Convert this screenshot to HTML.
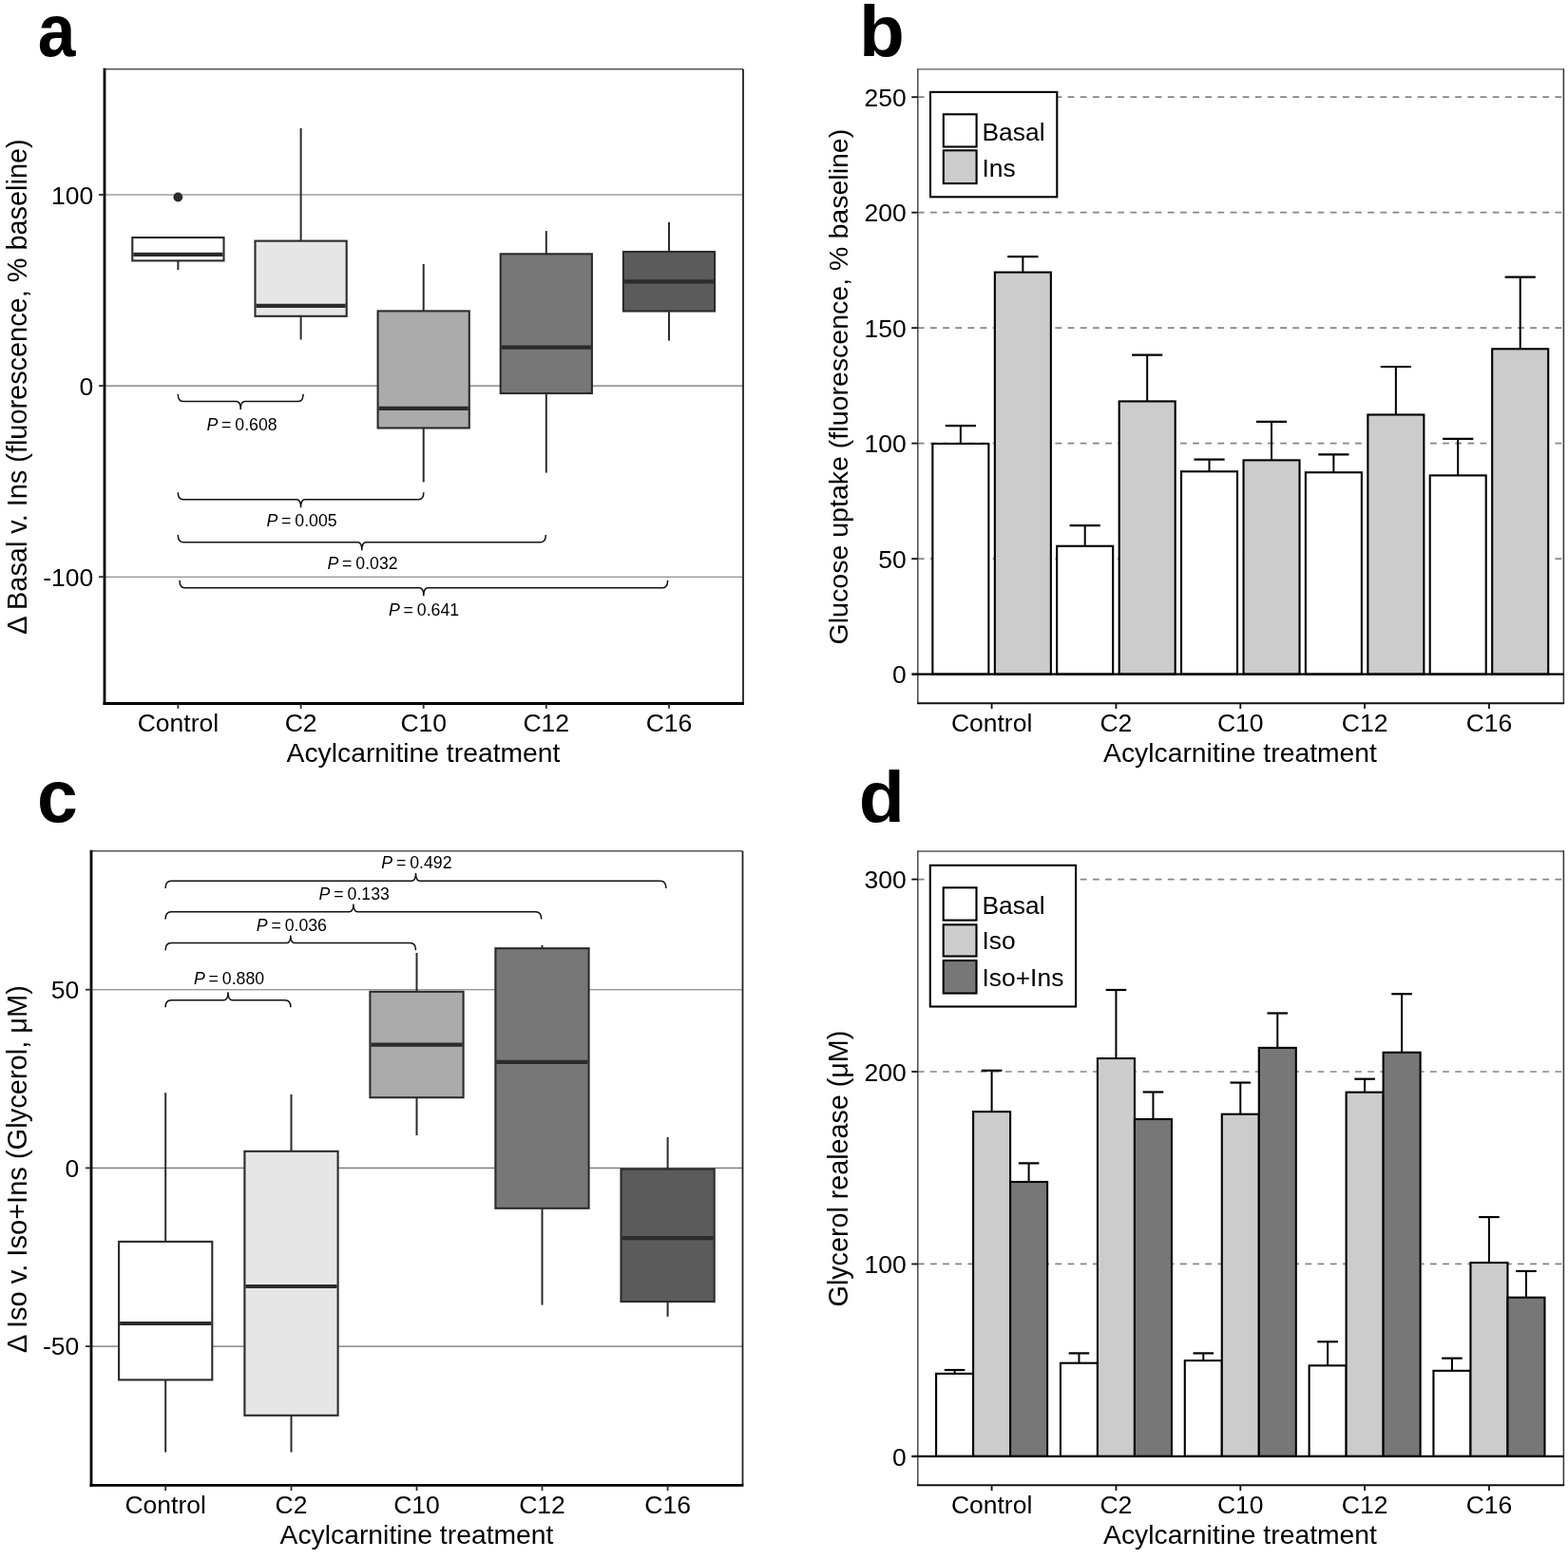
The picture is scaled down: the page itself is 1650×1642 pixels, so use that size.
<!DOCTYPE html>
<html><head><meta charset="utf-8"><title>Figure</title><style>html,body{margin:0;padding:0;background:#fff;}svg{display:block;}</style></head><body>
<svg width="1650" height="1642" viewBox="0 0 1650 1642" font-family="'Liberation Sans', Arial, Helvetica, sans-serif" fill="#000">
<rect x="0" y="0" width="1650" height="1642" fill="#fff"/>
<line x1="110" y1="205" x2="782" y2="205" stroke="#707070" stroke-width="1.15"/>
<line x1="110" y1="406.1" x2="782" y2="406.1" stroke="#707070" stroke-width="1.15"/>
<line x1="110" y1="607.2" x2="782" y2="607.2" stroke="#707070" stroke-width="1.15"/>
<line x1="110" y1="72.7" x2="782" y2="72.7" stroke="#555" stroke-width="1.5"/>
<line x1="782" y1="72.7" x2="782" y2="740.5" stroke="#222" stroke-width="1.8"/>
<line x1="187.4" y1="250" x2="187.4" y2="250" stroke="#2b2b2b" stroke-width="2"/>
<line x1="187.4" y1="274.4" x2="187.4" y2="284" stroke="#2b2b2b" stroke-width="2"/>
<rect x="139.3" y="250" width="96.2" height="24.4" fill="#ffffff" stroke="#2b2b2b" stroke-width="2.1"/>
<line x1="140.3" y1="267.8" x2="234.5" y2="267.8" stroke="#2b2b2b" stroke-width="4.2"/>
<line x1="316.6" y1="134.9" x2="316.6" y2="253.6" stroke="#2b2b2b" stroke-width="2"/>
<line x1="316.6" y1="332.8" x2="316.6" y2="357.5" stroke="#2b2b2b" stroke-width="2"/>
<rect x="268.5" y="253.6" width="96.2" height="79.2" fill="#e6e6e6" stroke="#2b2b2b" stroke-width="2.1"/>
<line x1="269.5" y1="321.8" x2="363.7" y2="321.8" stroke="#2b2b2b" stroke-width="4.2"/>
<line x1="445.7" y1="277.9" x2="445.7" y2="327.4" stroke="#2b2b2b" stroke-width="2"/>
<line x1="445.7" y1="450.5" x2="445.7" y2="507.4" stroke="#2b2b2b" stroke-width="2"/>
<rect x="397.6" y="327.4" width="96.2" height="123.1" fill="#ababab" stroke="#2b2b2b" stroke-width="2.1"/>
<line x1="398.6" y1="429.8" x2="492.8" y2="429.8" stroke="#2b2b2b" stroke-width="4.2"/>
<line x1="574.8" y1="243.1" x2="574.8" y2="267.3" stroke="#2b2b2b" stroke-width="2"/>
<line x1="574.8" y1="414" x2="574.8" y2="497.6" stroke="#2b2b2b" stroke-width="2"/>
<rect x="526.7" y="267.3" width="96.2" height="146.7" fill="#777777" stroke="#2b2b2b" stroke-width="2.1"/>
<line x1="527.7" y1="365.7" x2="621.9" y2="365.7" stroke="#2b2b2b" stroke-width="4.2"/>
<line x1="704" y1="233.9" x2="704" y2="265" stroke="#2b2b2b" stroke-width="2"/>
<line x1="704" y1="327.5" x2="704" y2="358.4" stroke="#2b2b2b" stroke-width="2"/>
<rect x="655.9" y="265" width="96.2" height="62.5" fill="#5b5b5b" stroke="#2b2b2b" stroke-width="2.1"/>
<line x1="656.9" y1="296.3" x2="751.1" y2="296.3" stroke="#2b2b2b" stroke-width="4.2"/>
<circle cx="187.3" cy="207.5" r="4.9" fill="#2b2b2b"/>
<line x1="110" y1="71.7" x2="110" y2="741.9" stroke="#000" stroke-width="2.8"/>
<line x1="108.6" y1="740.5" x2="782.9" y2="740.5" stroke="#000" stroke-width="2.8"/>
<line x1="104" y1="205" x2="110" y2="205" stroke="#2b2b2b" stroke-width="1.8"/>
<text x="98.2" y="214.6" font-size="26.5" text-anchor="end">100</text>
<line x1="104" y1="406.1" x2="110" y2="406.1" stroke="#2b2b2b" stroke-width="1.8"/>
<text x="98.2" y="415.7" font-size="26.5" text-anchor="end">0</text>
<line x1="104" y1="607.2" x2="110" y2="607.2" stroke="#2b2b2b" stroke-width="1.8"/>
<text x="98.2" y="616.8" font-size="26.5" text-anchor="end">-100</text>
<line x1="187.4" y1="740.5" x2="187.4" y2="745.8" stroke="#2b2b2b" stroke-width="1.8"/>
<text x="187.4" y="770" font-size="26.5" text-anchor="middle">Control</text>
<line x1="316.6" y1="740.5" x2="316.6" y2="745.8" stroke="#2b2b2b" stroke-width="1.8"/>
<text x="316.6" y="770" font-size="26.5" text-anchor="middle">C2</text>
<line x1="445.7" y1="740.5" x2="445.7" y2="745.8" stroke="#2b2b2b" stroke-width="1.8"/>
<text x="445.7" y="770" font-size="26.5" text-anchor="middle">C10</text>
<line x1="574.8" y1="740.5" x2="574.8" y2="745.8" stroke="#2b2b2b" stroke-width="1.8"/>
<text x="574.8" y="770" font-size="26.5" text-anchor="middle">C12</text>
<line x1="704" y1="740.5" x2="704" y2="745.8" stroke="#2b2b2b" stroke-width="1.8"/>
<text x="704" y="770" font-size="26.5" text-anchor="middle">C16</text>
<text x="445.5" y="802.3" font-size="28.3" text-anchor="middle">Acylcarnitine treatment</text>
<text transform="translate(28,407) rotate(-90)" font-size="28.9" text-anchor="middle">&#916; Basal v. Ins (fluorescence, % baseline)</text>
<path d="M187.3,414.8 Q187.3,422.5 192.5,422.5 L248.7,422.5 Q253.2,422.5 253.2,431 Q253.2,422.5 257.7,422.5 L313.9,422.5 Q319.1,422.5 319.1,414.8" fill="none" stroke="#111" stroke-width="1.5"/>
<text x="254.5" y="452.5" font-size="17.7" text-anchor="middle" word-spacing="-1"><tspan font-style="italic">P</tspan> = 0.608</text>
<path d="M187.3,518.3 Q187.3,525.8 192.5,525.8 L312.05,525.8 Q316.55,525.8 316.55,534.3 Q316.55,525.8 321.05,525.8 L440.6,525.8 Q445.8,525.8 445.8,518.3" fill="none" stroke="#111" stroke-width="1.5"/>
<text x="317.5" y="553.6" font-size="17.7" text-anchor="middle" word-spacing="-1"><tspan font-style="italic">P</tspan> = 0.005</text>
<path d="M187.3,563.1 Q187.3,570.7 192.5,570.7 L376.3,570.7 Q380.8,570.7 380.8,579.2 Q380.8,570.7 385.3,570.7 L569.1,570.7 Q574.3,570.7 574.3,563.1" fill="none" stroke="#111" stroke-width="1.5"/>
<text x="381.5" y="598.7" font-size="17.7" text-anchor="middle" word-spacing="-1"><tspan font-style="italic">P</tspan> = 0.032</text>
<path d="M189,610.7 Q189,618.7 194.2,618.7 L441.3,618.7 Q445.8,618.7 445.8,627.2 Q445.8,618.7 450.3,618.7 L697.4,618.7 Q702.6,618.7 702.6,610.7" fill="none" stroke="#111" stroke-width="1.5"/>
<text x="446" y="648.3" font-size="17.7" text-anchor="middle" word-spacing="-1"><tspan font-style="italic">P</tspan> = 0.641</text>
<text transform="translate(39.8,58.8) scale(0.911,1)" font-size="78.3" font-weight="bold">a</text>
<line x1="965.8" y1="588.12" x2="1645.4" y2="588.12" stroke="#858585" stroke-width="1.7" stroke-dasharray="6.8 6.35"/>
<line x1="965.8" y1="466.64" x2="1645.4" y2="466.64" stroke="#858585" stroke-width="1.7" stroke-dasharray="6.8 6.35"/>
<line x1="965.8" y1="345.16" x2="1645.4" y2="345.16" stroke="#858585" stroke-width="1.7" stroke-dasharray="6.8 6.35"/>
<line x1="965.8" y1="223.68" x2="1645.4" y2="223.68" stroke="#858585" stroke-width="1.7" stroke-dasharray="6.8 6.35"/>
<line x1="965.8" y1="102.2" x2="1645.4" y2="102.2" stroke="#858585" stroke-width="1.7" stroke-dasharray="6.8 6.35"/>
<line x1="965.8" y1="72.9" x2="1645.4" y2="72.9" stroke="#5a5a5a" stroke-width="1.4"/>
<line x1="965.8" y1="72.2" x2="965.8" y2="740.2" stroke="#484848" stroke-width="1.5"/>
<line x1="1645.4" y1="72.2" x2="1645.4" y2="740.2" stroke="#333" stroke-width="1.5"/>
<line x1="965.05" y1="740.2" x2="1646.15" y2="740.2" stroke="#111" stroke-width="1.9"/>
<line x1="1010.85" y1="467" x2="1010.85" y2="448.18" stroke="#000" stroke-width="2"/>
<line x1="994.75" y1="448.18" x2="1026.95" y2="448.18" stroke="#000" stroke-width="2.2"/>
<rect x="981.35" y="467" width="59" height="242.6" fill="#ffffff" stroke="#000" stroke-width="2.1"/>
<line x1="1076.35" y1="286.61" x2="1076.35" y2="270.09" stroke="#000" stroke-width="2"/>
<line x1="1060.25" y1="270.09" x2="1092.45" y2="270.09" stroke="#000" stroke-width="2.2"/>
<rect x="1046.85" y="286.61" width="59" height="422.99" fill="#cccccc" stroke="#000" stroke-width="2.1"/>
<line x1="1141.69" y1="574.76" x2="1141.69" y2="553.13" stroke="#000" stroke-width="2"/>
<line x1="1125.59" y1="553.13" x2="1157.79" y2="553.13" stroke="#000" stroke-width="2.2"/>
<rect x="1112.19" y="574.76" width="59" height="134.84" fill="#ffffff" stroke="#000" stroke-width="2.1"/>
<line x1="1207.19" y1="422.42" x2="1207.19" y2="373.59" stroke="#000" stroke-width="2"/>
<line x1="1191.09" y1="373.59" x2="1223.29" y2="373.59" stroke="#000" stroke-width="2.2"/>
<rect x="1177.69" y="422.42" width="59" height="287.18" fill="#cccccc" stroke="#000" stroke-width="2.1"/>
<line x1="1272.53" y1="496.28" x2="1272.53" y2="483.65" stroke="#000" stroke-width="2"/>
<line x1="1256.43" y1="483.65" x2="1288.63" y2="483.65" stroke="#000" stroke-width="2.2"/>
<rect x="1243.03" y="496.28" width="59" height="213.32" fill="#ffffff" stroke="#000" stroke-width="2.1"/>
<line x1="1338.03" y1="484.38" x2="1338.03" y2="443.8" stroke="#000" stroke-width="2"/>
<line x1="1321.93" y1="443.8" x2="1354.13" y2="443.8" stroke="#000" stroke-width="2.2"/>
<rect x="1308.53" y="484.38" width="59" height="225.22" fill="#cccccc" stroke="#000" stroke-width="2.1"/>
<line x1="1403.37" y1="497.25" x2="1403.37" y2="478.3" stroke="#000" stroke-width="2"/>
<line x1="1387.27" y1="478.3" x2="1419.47" y2="478.3" stroke="#000" stroke-width="2.2"/>
<rect x="1373.87" y="497.25" width="59" height="212.35" fill="#ffffff" stroke="#000" stroke-width="2.1"/>
<line x1="1468.87" y1="436.51" x2="1468.87" y2="385.98" stroke="#000" stroke-width="2"/>
<line x1="1452.77" y1="385.98" x2="1484.97" y2="385.98" stroke="#000" stroke-width="2.2"/>
<rect x="1439.37" y="436.51" width="59" height="273.09" fill="#cccccc" stroke="#000" stroke-width="2.1"/>
<line x1="1534.21" y1="500.41" x2="1534.21" y2="461.9" stroke="#000" stroke-width="2"/>
<line x1="1518.11" y1="461.9" x2="1550.31" y2="461.9" stroke="#000" stroke-width="2.2"/>
<rect x="1504.71" y="500.41" width="59" height="209.19" fill="#ffffff" stroke="#000" stroke-width="2.1"/>
<line x1="1599.71" y1="367.27" x2="1599.71" y2="291.71" stroke="#000" stroke-width="2"/>
<line x1="1583.61" y1="291.71" x2="1615.81" y2="291.71" stroke="#000" stroke-width="2.2"/>
<rect x="1570.21" y="367.27" width="59" height="342.33" fill="#cccccc" stroke="#000" stroke-width="2.1"/>
<line x1="959.8" y1="709.6" x2="1645.4" y2="709.6" stroke="#000" stroke-width="2.2"/>
<line x1="959.3" y1="709.6" x2="965.8" y2="709.6" stroke="#111" stroke-width="1.8"/>
<text x="953.8" y="719.2" font-size="26.5" text-anchor="end">0</text>
<line x1="959.3" y1="588.12" x2="965.8" y2="588.12" stroke="#111" stroke-width="1.8"/>
<text x="953.8" y="597.72" font-size="26.5" text-anchor="end">50</text>
<line x1="959.3" y1="466.64" x2="965.8" y2="466.64" stroke="#111" stroke-width="1.8"/>
<text x="953.8" y="476.24" font-size="26.5" text-anchor="end">100</text>
<line x1="959.3" y1="345.16" x2="965.8" y2="345.16" stroke="#111" stroke-width="1.8"/>
<text x="953.8" y="354.76" font-size="26.5" text-anchor="end">150</text>
<line x1="959.3" y1="223.68" x2="965.8" y2="223.68" stroke="#111" stroke-width="1.8"/>
<text x="953.8" y="233.28" font-size="26.5" text-anchor="end">200</text>
<line x1="959.3" y1="102.2" x2="965.8" y2="102.2" stroke="#111" stroke-width="1.8"/>
<text x="953.8" y="111.8" font-size="26.5" text-anchor="end">250</text>
<line x1="1043.6" y1="740.2" x2="1043.6" y2="746" stroke="#111" stroke-width="1.8"/>
<text x="1043.6" y="770" font-size="26.5" text-anchor="middle">Control</text>
<line x1="1174.44" y1="740.2" x2="1174.44" y2="746" stroke="#111" stroke-width="1.8"/>
<text x="1174.44" y="770" font-size="26.5" text-anchor="middle">C2</text>
<line x1="1305.28" y1="740.2" x2="1305.28" y2="746" stroke="#111" stroke-width="1.8"/>
<text x="1305.28" y="770" font-size="26.5" text-anchor="middle">C10</text>
<line x1="1436.12" y1="740.2" x2="1436.12" y2="746" stroke="#111" stroke-width="1.8"/>
<text x="1436.12" y="770" font-size="26.5" text-anchor="middle">C12</text>
<line x1="1566.96" y1="740.2" x2="1566.96" y2="746" stroke="#111" stroke-width="1.8"/>
<text x="1566.96" y="770" font-size="26.5" text-anchor="middle">C16</text>
<text x="1305" y="802.3" font-size="28.3" text-anchor="middle">Acylcarnitine treatment</text>
<text transform="translate(892.4,407.1) rotate(-90)" font-size="28.56" text-anchor="middle">Glucose uptake (fluorescence, % baseline)</text>
<rect x="979" y="96.9" width="133.3" height="110.4" fill="#fff" stroke="#000" stroke-width="2.1"/>
<rect x="992.8" y="120.3" width="34.8" height="34.2" fill="#fff" stroke="#000" stroke-width="2.1"/>
<rect x="992.8" y="158.3" width="34.8" height="34.8" fill="#cccccc" stroke="#000" stroke-width="2.1"/>
<text x="1033.5" y="147.5" font-size="26.4" text-anchor="start">Basal</text>
<text x="1033.5" y="185.8" font-size="26.4" text-anchor="start">Ins</text>
<text transform="translate(904,58.9) scale(1.03,1)" font-size="76.1" font-weight="bold">b</text>
<line x1="96" y1="1041.7" x2="781.5" y2="1041.7" stroke="#707070" stroke-width="1.15"/>
<line x1="96" y1="1229.4" x2="781.5" y2="1229.4" stroke="#707070" stroke-width="1.15"/>
<line x1="96" y1="1417.1" x2="781.5" y2="1417.1" stroke="#707070" stroke-width="1.15"/>
<line x1="96" y1="895.8" x2="781.5" y2="895.8" stroke="#555" stroke-width="1.5"/>
<line x1="781.5" y1="895.8" x2="781.5" y2="1563.4" stroke="#222" stroke-width="1.8"/>
<line x1="174.2" y1="1150.2" x2="174.2" y2="1306.9" stroke="#2b2b2b" stroke-width="2"/>
<line x1="174.2" y1="1452.4" x2="174.2" y2="1528.5" stroke="#2b2b2b" stroke-width="2"/>
<rect x="125.1" y="1306.9" width="98.2" height="145.5" fill="#ffffff" stroke="#2b2b2b" stroke-width="2.1"/>
<line x1="126.1" y1="1393" x2="222.3" y2="1393" stroke="#2b2b2b" stroke-width="4.2"/>
<line x1="306.5" y1="1151.9" x2="306.5" y2="1211.8" stroke="#2b2b2b" stroke-width="2"/>
<line x1="306.5" y1="1489.8" x2="306.5" y2="1528.5" stroke="#2b2b2b" stroke-width="2"/>
<rect x="257.4" y="1211.8" width="98.2" height="278" fill="#e6e6e6" stroke="#2b2b2b" stroke-width="2.1"/>
<line x1="258.4" y1="1354" x2="354.6" y2="1354" stroke="#2b2b2b" stroke-width="4.2"/>
<line x1="438.5" y1="1003" x2="438.5" y2="1043.8" stroke="#2b2b2b" stroke-width="2"/>
<line x1="438.5" y1="1155.2" x2="438.5" y2="1195" stroke="#2b2b2b" stroke-width="2"/>
<rect x="389.4" y="1043.8" width="98.2" height="111.4" fill="#ababab" stroke="#2b2b2b" stroke-width="2.1"/>
<line x1="390.4" y1="1099.6" x2="486.6" y2="1099.6" stroke="#2b2b2b" stroke-width="4.2"/>
<line x1="570.5" y1="994.8" x2="570.5" y2="998.2" stroke="#2b2b2b" stroke-width="2"/>
<line x1="570.5" y1="1271.8" x2="570.5" y2="1373.6" stroke="#2b2b2b" stroke-width="2"/>
<rect x="521.4" y="998.2" width="98.2" height="273.6" fill="#777777" stroke="#2b2b2b" stroke-width="2.1"/>
<line x1="522.4" y1="1117.8" x2="618.6" y2="1117.8" stroke="#2b2b2b" stroke-width="4.2"/>
<line x1="702.6" y1="1197" x2="702.6" y2="1230.6" stroke="#2b2b2b" stroke-width="2"/>
<line x1="702.6" y1="1370" x2="702.6" y2="1385.8" stroke="#2b2b2b" stroke-width="2"/>
<rect x="653.5" y="1230.6" width="98.2" height="139.4" fill="#5b5b5b" stroke="#2b2b2b" stroke-width="2.1"/>
<line x1="654.5" y1="1303.1" x2="750.7" y2="1303.1" stroke="#2b2b2b" stroke-width="4.2"/>
<line x1="96" y1="894.8" x2="96" y2="1564.8" stroke="#000" stroke-width="2.8"/>
<line x1="94.6" y1="1563.4" x2="782.4" y2="1563.4" stroke="#000" stroke-width="2.8"/>
<line x1="90" y1="1041.7" x2="96" y2="1041.7" stroke="#2b2b2b" stroke-width="1.8"/>
<text x="83.3" y="1051" font-size="26.5" text-anchor="end">50</text>
<line x1="90" y1="1229.4" x2="96" y2="1229.4" stroke="#2b2b2b" stroke-width="1.8"/>
<text x="83.3" y="1238.7" font-size="26.5" text-anchor="end">0</text>
<line x1="90" y1="1417.1" x2="96" y2="1417.1" stroke="#2b2b2b" stroke-width="1.8"/>
<text x="83.3" y="1426.4" font-size="26.5" text-anchor="end">-50</text>
<line x1="174.2" y1="1563.4" x2="174.2" y2="1569" stroke="#2b2b2b" stroke-width="1.8"/>
<text x="174.2" y="1593" font-size="26.5" text-anchor="middle">Control</text>
<line x1="306.5" y1="1563.4" x2="306.5" y2="1569" stroke="#2b2b2b" stroke-width="1.8"/>
<text x="306.5" y="1593" font-size="26.5" text-anchor="middle">C2</text>
<line x1="438.5" y1="1563.4" x2="438.5" y2="1569" stroke="#2b2b2b" stroke-width="1.8"/>
<text x="438.5" y="1593" font-size="26.5" text-anchor="middle">C10</text>
<line x1="570.5" y1="1563.4" x2="570.5" y2="1569" stroke="#2b2b2b" stroke-width="1.8"/>
<text x="570.5" y="1593" font-size="26.5" text-anchor="middle">C12</text>
<line x1="702.6" y1="1563.4" x2="702.6" y2="1569" stroke="#2b2b2b" stroke-width="1.8"/>
<text x="702.6" y="1593" font-size="26.5" text-anchor="middle">C16</text>
<text x="438.5" y="1625.3" font-size="28.3" text-anchor="middle">Acylcarnitine treatment</text>
<text transform="translate(28.2,1230.45) rotate(-90)" font-size="29.07" text-anchor="middle">&#916; Iso v. Iso+Ins (Glycerol, &#956;M)</text>
<path d="M174.1,1060.2 Q174.1,1052.8 180.1,1052.8 L235.5,1052.8 Q240,1052.8 240,1044.3 Q240,1052.8 244.5,1052.8 L299.9,1052.8 Q305.9,1052.8 305.9,1060.2" fill="none" stroke="#111" stroke-width="1.5"/>
<text x="241" y="1035.6" font-size="17.7" text-anchor="middle" word-spacing="-1"><tspan font-style="italic">P</tspan> = 0.880</text>
<path d="M174.1,1000.2 Q174.1,992.6 180.1,992.6 L301.3,992.6 Q305.8,992.6 305.8,984.4 Q305.8,992.6 310.3,992.6 L431.5,992.6 Q437.5,992.6 437.5,1000.2" fill="none" stroke="#111" stroke-width="1.5"/>
<text x="306.8" y="979.9" font-size="17.7" text-anchor="middle" word-spacing="-1"><tspan font-style="italic">P</tspan> = 0.036</text>
<path d="M174.1,967.5 Q174.1,959.7 180.1,959.7 L367.4,959.7 Q371.9,959.7 371.9,951.5 Q371.9,959.7 376.4,959.7 L563.7,959.7 Q569.7,959.7 569.7,967.5" fill="none" stroke="#111" stroke-width="1.5"/>
<text x="372.7" y="947.2" font-size="17.7" text-anchor="middle" word-spacing="-1"><tspan font-style="italic">P</tspan> = 0.133</text>
<path d="M174.1,935 Q174.1,927.2 180.1,927.2 L433,927.2 Q437.5,927.2 437.5,919 Q437.5,927.2 442,927.2 L694.9,927.2 Q700.9,927.2 700.9,935" fill="none" stroke="#111" stroke-width="1.5"/>
<text x="438.4" y="913.9" font-size="17.7" text-anchor="middle" word-spacing="-1"><tspan font-style="italic">P</tspan> = 0.492</text>
<text transform="translate(39.1,864.8) scale(0.98,1)" font-size="78.5" font-weight="bold">c</text>
<line x1="965.8" y1="1330.45" x2="1645.4" y2="1330.45" stroke="#858585" stroke-width="1.7" stroke-dasharray="6.8 6.35"/>
<line x1="965.8" y1="1128" x2="1645.4" y2="1128" stroke="#858585" stroke-width="1.7" stroke-dasharray="6.8 6.35"/>
<line x1="965.8" y1="925.55" x2="1645.4" y2="925.55" stroke="#858585" stroke-width="1.7" stroke-dasharray="6.8 6.35"/>
<line x1="965.8" y1="896" x2="1645.4" y2="896" stroke="#5a5a5a" stroke-width="1.4"/>
<line x1="965.8" y1="895.3" x2="965.8" y2="1563.3" stroke="#484848" stroke-width="1.5"/>
<line x1="1645.4" y1="895.3" x2="1645.4" y2="1563.3" stroke="#333" stroke-width="1.5"/>
<line x1="965.05" y1="1563.3" x2="1646.15" y2="1563.3" stroke="#111" stroke-width="1.9"/>
<line x1="1004.6" y1="1445.85" x2="1004.6" y2="1442" stroke="#000" stroke-width="2"/>
<line x1="993.8" y1="1442" x2="1015.4" y2="1442" stroke="#000" stroke-width="2.2"/>
<line x1="1043.6" y1="1170.11" x2="1043.6" y2="1126.79" stroke="#000" stroke-width="2"/>
<line x1="1032.8" y1="1126.79" x2="1054.4" y2="1126.79" stroke="#000" stroke-width="2.2"/>
<line x1="1082.6" y1="1244" x2="1082.6" y2="1224.37" stroke="#000" stroke-width="2"/>
<line x1="1071.8" y1="1224.37" x2="1093.4" y2="1224.37" stroke="#000" stroke-width="2.2"/>
<rect x="985.1" y="1445.85" width="39" height="87.05" fill="#ffffff" stroke="#000" stroke-width="2.1"/>
<rect x="1024.1" y="1170.11" width="39" height="362.79" fill="#cccccc" stroke="#000" stroke-width="2.1"/>
<rect x="1063.1" y="1244" width="39" height="288.9" fill="#777777" stroke="#000" stroke-width="2.1"/>
<line x1="1135.44" y1="1434.71" x2="1135.44" y2="1424.39" stroke="#000" stroke-width="2"/>
<line x1="1124.64" y1="1424.39" x2="1146.24" y2="1424.39" stroke="#000" stroke-width="2.2"/>
<line x1="1174.44" y1="1114.03" x2="1174.44" y2="1041.96" stroke="#000" stroke-width="2"/>
<line x1="1163.64" y1="1041.96" x2="1185.24" y2="1041.96" stroke="#000" stroke-width="2.2"/>
<line x1="1213.44" y1="1178.01" x2="1213.44" y2="1149.46" stroke="#000" stroke-width="2"/>
<line x1="1202.64" y1="1149.46" x2="1224.24" y2="1149.46" stroke="#000" stroke-width="2.2"/>
<rect x="1115.94" y="1434.71" width="39" height="98.19" fill="#ffffff" stroke="#000" stroke-width="2.1"/>
<rect x="1154.94" y="1114.03" width="39" height="418.87" fill="#cccccc" stroke="#000" stroke-width="2.1"/>
<rect x="1193.94" y="1178.01" width="39" height="354.89" fill="#777777" stroke="#000" stroke-width="2.1"/>
<line x1="1266.28" y1="1432.08" x2="1266.28" y2="1424.39" stroke="#000" stroke-width="2"/>
<line x1="1255.48" y1="1424.39" x2="1277.08" y2="1424.39" stroke="#000" stroke-width="2.2"/>
<line x1="1305.28" y1="1172.74" x2="1305.28" y2="1139.54" stroke="#000" stroke-width="2"/>
<line x1="1294.48" y1="1139.54" x2="1316.08" y2="1139.54" stroke="#000" stroke-width="2.2"/>
<line x1="1344.28" y1="1102.9" x2="1344.28" y2="1066.46" stroke="#000" stroke-width="2"/>
<line x1="1333.48" y1="1066.46" x2="1355.08" y2="1066.46" stroke="#000" stroke-width="2.2"/>
<rect x="1246.78" y="1432.08" width="39" height="100.82" fill="#ffffff" stroke="#000" stroke-width="2.1"/>
<rect x="1285.78" y="1172.74" width="39" height="360.16" fill="#cccccc" stroke="#000" stroke-width="2.1"/>
<rect x="1324.78" y="1102.9" width="39" height="430" fill="#777777" stroke="#000" stroke-width="2.1"/>
<line x1="1397.12" y1="1437.34" x2="1397.12" y2="1412.24" stroke="#000" stroke-width="2"/>
<line x1="1386.32" y1="1412.24" x2="1407.92" y2="1412.24" stroke="#000" stroke-width="2.2"/>
<line x1="1436.12" y1="1149.66" x2="1436.12" y2="1135.69" stroke="#000" stroke-width="2"/>
<line x1="1425.32" y1="1135.69" x2="1446.92" y2="1135.69" stroke="#000" stroke-width="2.2"/>
<line x1="1475.12" y1="1107.76" x2="1475.12" y2="1046.21" stroke="#000" stroke-width="2"/>
<line x1="1464.32" y1="1046.21" x2="1485.92" y2="1046.21" stroke="#000" stroke-width="2.2"/>
<rect x="1377.62" y="1437.34" width="39" height="95.56" fill="#ffffff" stroke="#000" stroke-width="2.1"/>
<rect x="1416.62" y="1149.66" width="39" height="383.24" fill="#cccccc" stroke="#000" stroke-width="2.1"/>
<rect x="1455.62" y="1107.76" width="39" height="425.14" fill="#777777" stroke="#000" stroke-width="2.1"/>
<line x1="1527.96" y1="1442.81" x2="1527.96" y2="1429.65" stroke="#000" stroke-width="2"/>
<line x1="1517.16" y1="1429.65" x2="1538.76" y2="1429.65" stroke="#000" stroke-width="2.2"/>
<line x1="1566.96" y1="1329.03" x2="1566.96" y2="1281.05" stroke="#000" stroke-width="2"/>
<line x1="1556.16" y1="1281.05" x2="1577.76" y2="1281.05" stroke="#000" stroke-width="2.2"/>
<line x1="1605.96" y1="1365.68" x2="1605.96" y2="1337.94" stroke="#000" stroke-width="2"/>
<line x1="1595.16" y1="1337.94" x2="1616.76" y2="1337.94" stroke="#000" stroke-width="2.2"/>
<rect x="1508.46" y="1442.81" width="39" height="90.09" fill="#ffffff" stroke="#000" stroke-width="2.1"/>
<rect x="1547.46" y="1329.03" width="39" height="203.87" fill="#cccccc" stroke="#000" stroke-width="2.1"/>
<rect x="1586.46" y="1365.68" width="39" height="167.22" fill="#777777" stroke="#000" stroke-width="2.1"/>
<line x1="959.8" y1="1532.9" x2="1645.4" y2="1532.9" stroke="#000" stroke-width="2.2"/>
<line x1="959.3" y1="1532.9" x2="965.8" y2="1532.9" stroke="#111" stroke-width="1.8"/>
<text x="953.8" y="1542.5" font-size="26.5" text-anchor="end">0</text>
<line x1="959.3" y1="1330.45" x2="965.8" y2="1330.45" stroke="#111" stroke-width="1.8"/>
<text x="953.8" y="1340.05" font-size="26.5" text-anchor="end">100</text>
<line x1="959.3" y1="1128" x2="965.8" y2="1128" stroke="#111" stroke-width="1.8"/>
<text x="953.8" y="1137.6" font-size="26.5" text-anchor="end">200</text>
<line x1="959.3" y1="925.55" x2="965.8" y2="925.55" stroke="#111" stroke-width="1.8"/>
<text x="953.8" y="935.15" font-size="26.5" text-anchor="end">300</text>
<line x1="1043.6" y1="1563.3" x2="1043.6" y2="1569" stroke="#111" stroke-width="1.8"/>
<text x="1043.6" y="1593" font-size="26.5" text-anchor="middle">Control</text>
<line x1="1174.44" y1="1563.3" x2="1174.44" y2="1569" stroke="#111" stroke-width="1.8"/>
<text x="1174.44" y="1593" font-size="26.5" text-anchor="middle">C2</text>
<line x1="1305.28" y1="1563.3" x2="1305.28" y2="1569" stroke="#111" stroke-width="1.8"/>
<text x="1305.28" y="1593" font-size="26.5" text-anchor="middle">C10</text>
<line x1="1436.12" y1="1563.3" x2="1436.12" y2="1569" stroke="#111" stroke-width="1.8"/>
<text x="1436.12" y="1593" font-size="26.5" text-anchor="middle">C12</text>
<line x1="1566.96" y1="1563.3" x2="1566.96" y2="1569" stroke="#111" stroke-width="1.8"/>
<text x="1566.96" y="1593" font-size="26.5" text-anchor="middle">C16</text>
<text x="1305" y="1625.3" font-size="28.3" text-anchor="middle">Acylcarnitine treatment</text>
<text transform="translate(892.4,1230.05) rotate(-90)" font-size="28.69" text-anchor="middle">Glycerol realease (&#956;M)</text>
<rect x="978.8" y="910.8" width="153.3" height="148.7" fill="#fff" stroke="#000" stroke-width="2.1"/>
<rect x="992.7" y="934.3" width="34.8" height="34.3" fill="#fff" stroke="#000" stroke-width="2.1"/>
<rect x="992.7" y="973.3" width="34.8" height="33.2" fill="#cccccc" stroke="#000" stroke-width="2.1"/>
<rect x="992.7" y="1011" width="34.8" height="34.5" fill="#777777" stroke="#000" stroke-width="2.1"/>
<text x="1033.5" y="962" font-size="26.4" text-anchor="start">Basal</text>
<text x="1033.5" y="999.3" font-size="26.4" text-anchor="start">Iso</text>
<text x="1033.5" y="1037.5" font-size="26.4" text-anchor="start">Iso+Ins</text>
<text transform="translate(903.8,864.8) scale(1.03,1)" font-size="76.5" font-weight="bold">d</text>
</svg>
</body></html>
